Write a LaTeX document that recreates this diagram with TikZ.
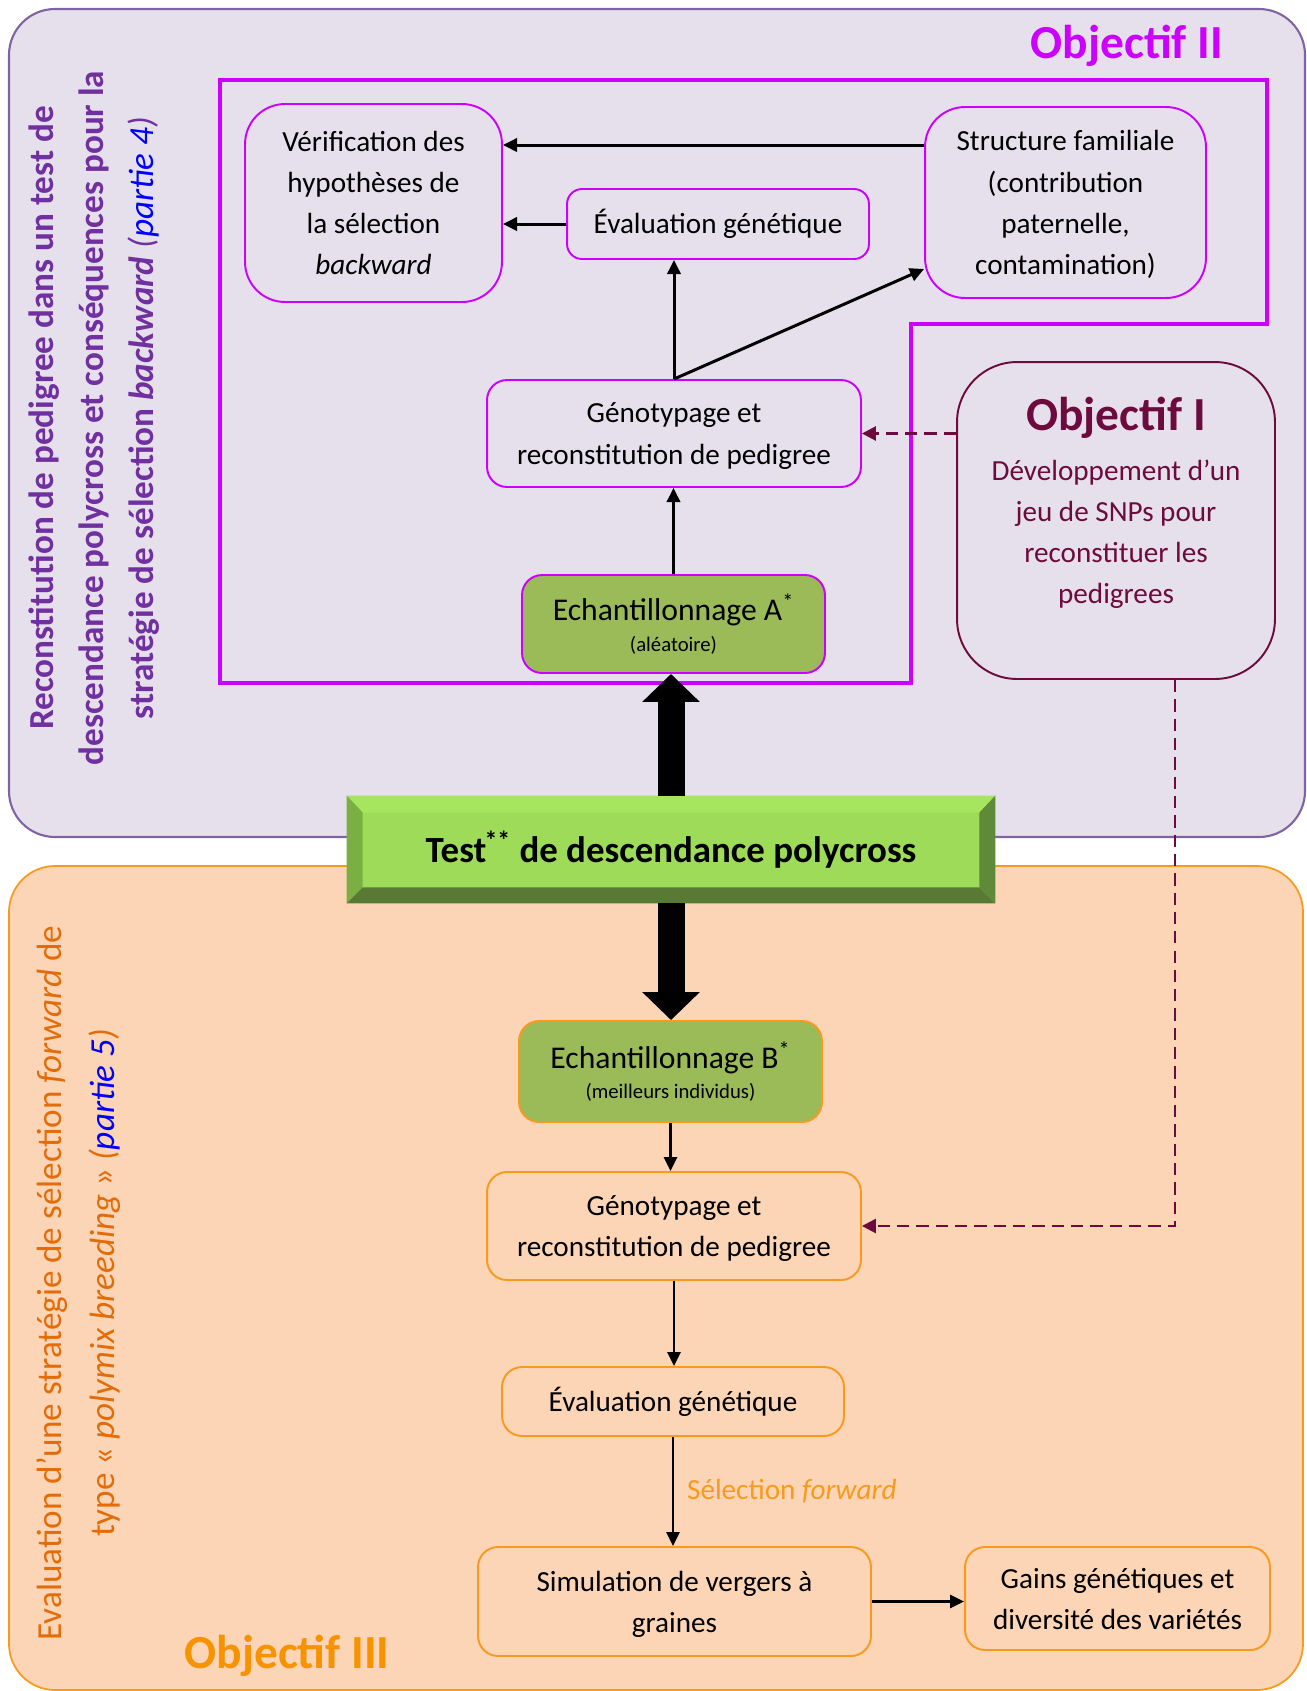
\documentclass[tikz,border=0pt]{standalone}
\usepackage{fontspec}
\setmainfont{Carlito}
\usetikzlibrary{arrows.meta,positioning}
\definecolor{lavbg}{HTML}{E5E0EC}
\definecolor{lavline}{HTML}{8064A2}
\definecolor{peachbg}{HTML}{FBD5B5}
\definecolor{orangeline}{HTML}{F79A1E}
\definecolor{objthreecol}{HTML}{F79200}
\definecolor{magentaline}{HTML}{CC00FF}
\definecolor{objonecol}{HTML}{6D0B3E}
\definecolor{purpletext}{HTML}{7030A0}
\definecolor{orangetext}{HTML}{E36C09}
\definecolor{sampgreen}{HTML}{9BBB59}
\definecolor{testface}{HTML}{9DDB59}
\definecolor{bevtop}{HTML}{A5E65E}
\definecolor{bevleft}{HTML}{7BAF43}
\definecolor{bevright}{HTML}{5F8B38}
\definecolor{bevbottom}{HTML}{587A35}
\newcommand{\boxfont}{\fontsize{16.6}{23.4}\selectfont}
\newcommand{\sampfont}{\fontsize{18}{19}\selectfont}
\newcommand{\sampsmall}{\fontsize{11.8}{14}\selectfont}
\newcommand{\objfont}{\fontsize{27}{30}\bfseries\selectfont}
\newcommand{\sidefont}{\fontsize{20}{28.3}\selectfont}
\newcommand{\sidefontb}{\fontsize{20}{30}\selectfont}
\newcommand{\testfont}{\fontsize{21}{24}\bfseries\selectfont}

\begin{document}
\begin{tikzpicture}[x=0.02cm,y=-0.02cm,
    box/.style={draw,rounded corners=0.4cm,line width=1.1pt,inner sep=0pt,align=center,font=\boxfont},
    multi/.style={text depth=0pt},
    topbox/.style={box,draw=magentaline},
    botbox/.style={box,draw=orangeline},
    arr/.style={-{Triangle[length=8pt,width=7.5pt]},line width=1.4pt},
    toparr/.style={arr,line width=1.7pt},
    dashlink/.style={-{Triangle[length=8pt,width=8pt]},line width=1.5pt,draw=objonecol,dash pattern=on 7pt off 4pt},
    bigarr/.style={-{Triangle[length=0.56cm,width=1.12cm]},line width=0.54cm}]
  \useasboundingbox (0,0) rectangle (1306,1691);
  % background regions
  \draw[fill=lavbg,draw=lavline,line width=1.2pt,rounded corners=0.92cm] (9,9) rectangle (1305,837);
  \draw[fill=peachbg,draw=orangeline,line width=1pt,rounded corners=0.92cm] (9,866) rectangle (1303,1690);
  \draw[magentaline,line width=1.8pt] (220,80) -- (1267,80) -- (1267,324) -- (911,324) -- (911,683) -- (220,683) -- cycle;

  % side texts
  \node[rotate=90,align=center,text=purpletext,font={\sidefont\bfseries}] (sidetop) at (94,418)
    {Reconstitution de pedigree dans un test de\\descendance polycross et conséquences pour la\\stratégie de sélection \textit{backward} {\mdseries\itshape(\textcolor{blue}{partie 4})}};
  \node[rotate=90,align=center,text=orangetext,font=\sidefontb] (sidebot) at (78.5,1283)
    {Evaluation d’une stratégie de sélection \textit{forward} de\\type « \textit{polymix breeding} » \textit{(\textcolor{blue}{partie 5})}};
  \node[text=magentaline,font=\objfont] (obj2lbl) at (1127,46) {Objectif II};
  \node[text=objthreecol,font=\objfont] (obj3lbl) at (287,1656) {Objectif III};

  % objectif II
  \node[topbox,rounded corners=0.8cm,minimum width=5.14cm,minimum height=3.96cm] (verif) at (373.5,203)
    {Vérification des\\hypothèses de\\la sélection\\\textit{backward}};
  \node[topbox,rounded corners=0.3cm,minimum width=6.04cm,minimum height=1.4cm] (evalA) at (718,224) {Évaluation génétique};
  \node[topbox,multi,rounded corners=0.8cm,minimum width=5.62cm,minimum height=3.82cm] (struct) at (1065.5,202.5)
    {Structure familiale\\(contribution\\paternelle,\\contamination)};
  \node[topbox,multi,minimum width=7.48cm,minimum height=2.14cm] (genoA) at (674,433.5)
    {Génotypage et\\reconstitution de pedigree};
  \node[topbox,fill=sampgreen,minimum width=6.06cm,minimum height=1.96cm] (echA) at (673.5,624)
    {\sampfont Echantillonnage A\textsuperscript{*}\\[-6pt]\sampsmall (aléatoire)};

  % objectif I
  \node[draw=objonecol,line width=1.1pt,rounded corners=1.2cm,minimum width=6.36cm,minimum height=6.34cm] (obj1) at (1116,520.5) {};
  \node[text=objonecol,font=\objfont] (obj1title) at ([yshift=-1.13cm]obj1.north) {Objectif I};
  \node[text=objonecol,font=\boxfont,align=center] (obj1text) at ([yshift=-3.47cm]obj1.north)
    {Développement d’un\\jeu de SNPs pour\\reconstituer les\\pedigrees};

  % test box
  \node[fill=testface,minimum width=12.96cm,minimum height=2.14cm,font=\testfont] (test) at (671,849.5)
    {Test\textsuperscript{\kern-1pt**} de descendance polycross};
  \fill[bevtop] (test.north west) -- (test.north east) -- ([xshift=-0.32cm,yshift=-0.34cm]test.north east) -- ([xshift=0.32cm,yshift=-0.34cm]test.north west) -- cycle;
  \fill[bevleft] (test.north west) -- ([xshift=0.32cm,yshift=-0.34cm]test.north west) -- ([xshift=0.32cm,yshift=0.32cm]test.south west) -- (test.south west) -- cycle;
  \fill[bevright] (test.north east) -- ([xshift=-0.32cm,yshift=-0.34cm]test.north east) -- ([xshift=-0.32cm,yshift=0.32cm]test.south east) -- (test.south east) -- cycle;
  \fill[bevbottom] (test.south west) -- ([xshift=0.32cm,yshift=0.32cm]test.south west) -- ([xshift=-0.32cm,yshift=0.32cm]test.south east) -- (test.south east) -- cycle;

  % objectif III
  \node[botbox,fill=sampgreen,minimum width=6.06cm,minimum height=2.02cm] (echB) at (670.5,1071.5)
    {\sampfont Echantillonnage B\textsuperscript{*}\\[-6pt]\sampsmall (meilleurs individus)};
  \node[botbox,multi,minimum width=7.48cm,minimum height=2.16cm] (genoB) at (674,1226)
    {Génotypage et\\reconstitution de pedigree};
  \node[botbox,minimum width=6.84cm,minimum height=1.38cm] (evalB) at (673,1401.5) {Évaluation génétique};
  \node[botbox,multi,minimum width=7.86cm,minimum height=2.18cm] (simul) at (674.5,1601.5)
    {Simulation de vergers à\\graines};
  \node[botbox,multi,minimum width=6.1cm,minimum height=2.06cm] (gains) at (1117.5,1598.5)
    {Gains génétiques et\\diversité des variétés};

  % connectors
  \draw[bigarr] (test.north) -- (test.north |- echA.south);
  \draw[bigarr] (test.south) -- (test.south |- echB.north);
  \draw[toparr] ([yshift=1.15cm]struct.west) -- ([yshift=1.15cm]struct.west -| verif.east);
  \draw[toparr] (evalA.west) -- (evalA.west -| verif.east);
  \draw[toparr] (genoA.north) -- (genoA.north |- evalA.south);
  \draw[toparr] (genoA.north) -- ([yshift=-1.33cm]struct.west);
  \draw[toparr] (echA.north) -- (echA.north |- genoA.south);
  \draw[dashlink] (obj1.west |- genoA.east) -- (genoA.east);
  \draw[dashlink] ([xshift=1.18cm]obj1.south) |- (genoB.east);
  \draw[arr] (echB.south) -- (echB.south |- genoB.north);
  \draw[arr] (genoB.south) -- (genoB.south |- evalB.north);
  \draw[arr] (evalB.south) -- node[right=4pt,text=orangeline,font=\boxfont] (sellbl) {Sélection \textit{forward}} (evalB.south |- simul.north);
  \draw[arr] (simul.east) -- (simul.east -| gains.west);
\end{tikzpicture}
\end{document}
